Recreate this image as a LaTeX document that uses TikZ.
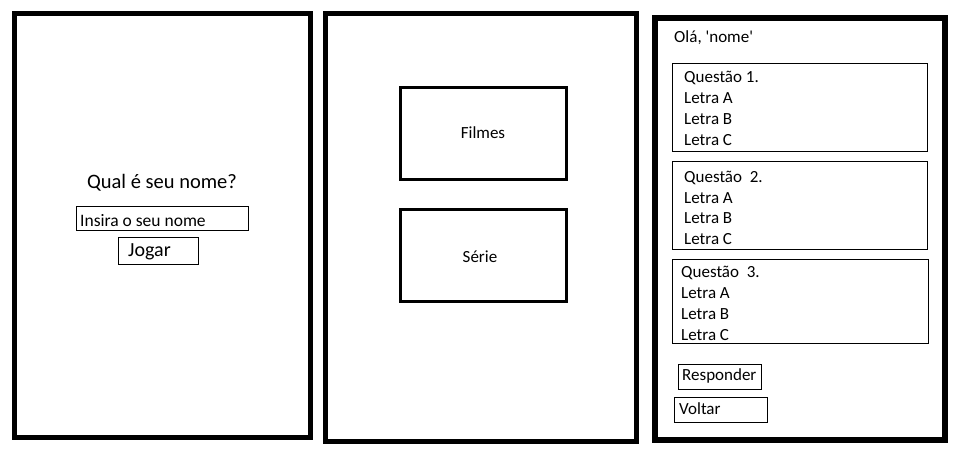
\documentclass[tikz,border=0pt]{standalone}
\usepackage{fontspec}
\setmainfont{Carlito}[Ligatures=TeXOff]
\begin{document}
\begin{tikzpicture}[x=1pt,y=-1pt,
  panel/.style={line width=5pt},
  bigbtn/.style={line width=3pt},
  thin/.style={line width=1.2pt},
  txt/.style={inner sep=0pt,anchor=base west,font=\fontsize{17}{20}\selectfont},
  ctxt/.style={inner sep=0pt,anchor=base,font=\fontsize{17}{20}\selectfont}]
\useasboundingbox[fill=white] (0,0) rectangle (965,463);
% panels
\draw[panel] (14.5,13.5) rectangle (310.5,437.5);
\draw[panel] (325.5,13.5) rectangle (636.5,441.5);
\draw[panel,line width=6pt] (655,18) rectangle (945,440);
% panel 1
\node[ctxt,font=\fontsize{20.5}{24}\selectfont] (q) at (162,188) {Qual é seu nome?};
\draw[thin] (76.5,206.5) rectangle (248.5,230.5);
\node[txt,font=\fontsize{17.5}{20}\selectfont] (ins) at (80,226) {Insira o seu nome};
\draw[thin] (118.5,237.5) rectangle (198.5,264.5);
\node[txt,font=\fontsize{20}{24}\selectfont] (jog) at (128,256) {Jogar};
% panel 2
\draw[bigbtn] (400.5,87.5) rectangle (566.5,179.5);
\node[ctxt] (fil) at (483,138) {Filmes};
\draw[bigbtn] (400.5,209.5) rectangle (566.5,301.5);
\node[ctxt] (ser) at (480,262) {Série};
% panel 3
\node[txt] (ola) at (674,42) {Olá, 'nome'};
\draw[thin] (672.5,63.5) rectangle (927.5,151.5);
\node[txt] (q1) at (684,82) {Questão 1.};
\node[txt] (q1a) at (684,103) {Letra A};
\node[txt] (q1b) at (684,124) {Letra B};
\node[txt] (q1c) at (684,145) {Letra C};
\draw[thin] (672.5,161.5) rectangle (927.5,249.5);
\node[txt] (q2) at (684,182) {Questão\ \ 2.};
\node[txt] (q2a) at (684,203) {Letra A};
\node[txt] (q2b) at (684,223) {Letra B};
\node[txt] (q2c) at (684,244) {Letra C};
\draw[thin] (672.5,259.5) rectangle (928.5,343.5);
\node[txt] (q3) at (681,277) {Questão\ \ 3.};
\node[txt] (q3a) at (681,298) {Letra A};
\node[txt] (q3b) at (681,319) {Letra B};
\node[txt] (q3c) at (681,340) {Letra C};
\draw[thin] (678.5,364.5) rectangle (761.5,389.5);
\node[txt] (resp) at (682,380) {Responder};
\draw[thin] (674.5,397.5) rectangle (767.5,422.5);
\node[txt] (volt) at (679,414) {Voltar};
\end{tikzpicture}
\end{document}
